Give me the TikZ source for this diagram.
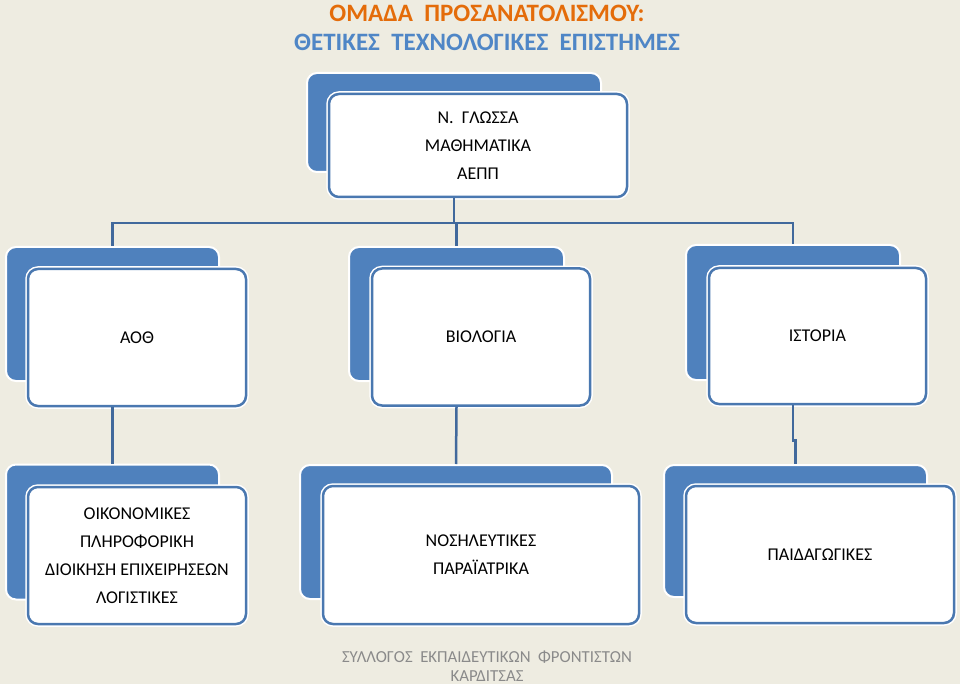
\documentclass[tikz,border=0pt]{standalone}
\usepackage{fontspec}
\setmainfont{Carlito}
\usetikzlibrary{calc}

\definecolor{paper}{HTML}{EEECE1}
\definecolor{cardblue}{HTML}{4F81BD}
\definecolor{cardline}{HTML}{4A78B0}
\definecolor{linkblue}{HTML}{41699C}
\definecolor{headorange}{HTML}{E46C0A}
\definecolor{headblue}{HTML}{4F86C6}
\definecolor{clubgray}{HTML}{8A8A8A}

\tikzset{
  card/.style={draw=cardline, line width=2.5pt, fill=white, rounded corners=10pt,
    preaction={draw=white, line width=5.5pt},
    align=center, inner sep=0pt, font=\fontsize{18}{28}\selectfont},
  backcard/.style={draw=white, line width=2pt, fill=cardblue, rounded corners=10pt},
  link/.style={draw=linkblue, line width=2.5pt},
  title/.style={font=\fontsize{25}{29}\selectfont\bfseries}
}

\begin{document}
\begin{tikzpicture}[x=1pt,y=-1pt]
 \useasboundingbox[fill=paper] (0,0) rectangle (960,684);

 % title
 \node[title, text=headorange] (head) at (487,13) {ΟΜΑΔΑ\ \ ΠΡΟΣΑΝΑΤΟΛΙΣΜΟΥ:};
 \node[title, text=headblue] (subhead) at (487,42) {ΘΕΤΙΚΕΣ\ \ ΤΕΧΝΟΛΟΓΙΚΕΣ\ \ ΕΠΙΣΤΗΜΕΣ};

 % common subjects
 \node[backcard, minimum width=294pt, minimum height=99pt] (topback) at (454,122.5) {};
 \node[card, minimum width=298pt, minimum height=103pt] (top) at (478,145.5) {Ν.\ \ ΓΛΩΣΣΑ\\ΜΑΘΗΜΑΤΙΚΑ\\ΑΕΠΠ};

 % second row
 \node[backcard, minimum width=213pt, minimum height=134pt] (aothback) at (112.5,314) {};
 \node[card, minimum width=218pt, minimum height=137pt] (aoth) at (137,337.5) {ΑΟΘ};
 \node[backcard, minimum width=215pt, minimum height=134pt] (bioback) at (456.5,314) {};
 \node[card, minimum width=218pt, minimum height=137pt] (bio) at (481,337) {ΒΙΟΛΟΓΙΑ};
 \node[backcard, minimum width=214pt, minimum height=135pt] (istback) at (793,312.5) {};
 \node[card, minimum width=217pt, minimum height=136pt] (ist) at (817.5,336) {ΙΣΤΟΡΙΑ};

 % third row
 \node[backcard, minimum width=213pt, minimum height=135pt] (oikback) at (112.5,532) {};
 \node[card, minimum width=218pt, minimum height=137pt] (oik) at (137,555.5) {ΟΙΚΟΝΟΜΙΚΕΣ\\ΠΛΗΡΟΦΟΡΙΚΗ\\ΔΙΟΙΚΗΣΗ ΕΠΙΧΕΙΡΗΣΕΩΝ\\ΛΟΓΙΣΤΙΚΕΣ};
 \node[backcard, minimum width=312pt, minimum height=134pt] (nosback) at (456,532) {};
 \node[card, minimum width=316pt, minimum height=138pt] (nos) at (481,555) {ΝΟΣΗΛΕΥΤΙΚΕΣ\\ΠΑΡΑΪΑΤΡΙΚΑ};
 \node[backcard, minimum width=263pt, minimum height=132pt] (paidback) at (795.5,531) {};
 \node[card, minimum width=268pt, minimum height=137pt] (paid) at (820,554.5) {ΠΑΙΔΑΓΩΓΙΚΕΣ};

 % connectors
 \coordinate (bus) at (453,223);
 \draw[link] (topback.south |- top.south) -- (topback.south |- bus);
 \draw[link] (aothback.north) -- (aothback.north |- bus) -- (istback.north |- bus) -- (istback.north);
 \draw[link] (bioback.north) -- (bioback.north |- bus);
 \draw[link] (aothback.south |- aoth.south) -- (oikback.north);
 \draw[link] (bioback.south |- bio.south) -- (nosback.north);
 \draw[link] (istback.south |- ist.south) -- ++(0,35) -| (paidback.north);

 % footer
 \node[text=clubgray, align=center, font=\fontsize{16.8}{19}\selectfont] (club) at (487,666) {ΣΥΛΛΟΓΟΣ\ \ ΕΚΠΑΙΔΕΥΤΙΚΩΝ\ \ ΦΡΟΝΤΙΣΤΩΝ\\ΚΑΡΔΙΤΣΑΣ};
\end{tikzpicture}
\end{document}
